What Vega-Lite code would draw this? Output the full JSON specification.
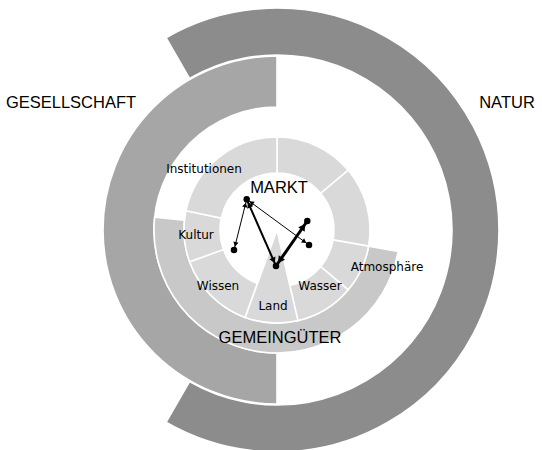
{
  "$schema": "https://vega.github.io/schema/vega-lite/v6.json",
  "width": 542,
  "height": 450,
  "padding": 0,
  "autosize": {"type": "none"},
  "background": "white",
  "config": {"view": {"stroke": null}},
  "datasets": {
    "rings": [
      {"name": "NATUR", "group": "natur", "t0": -30, "t1": 210, "r0": 175, "r1": 222, "cx": 0, "cy": 0},
      {"name": "GESELLSCHAFT", "group": "gesellschaft", "t0": 180, "t1": 360, "r0": 123, "r1": 174, "cx": 0, "cy": 0},
      {"name": "GEMEINGÜTER", "group": "gemeingueter", "t0": 100, "t1": 276, "r0": 93, "r1": 123, "cx": 0, "cy": 0},
      {"name": "s1", "group": "segment", "t0": 0, "t1": 50, "r0": 57, "r1": 93, "cx": 0, "cy": 0},
      {"name": "s2", "group": "segment", "t0": 50, "t1": 100, "r0": 57, "r1": 93, "cx": 0, "cy": 0},
      {"name": "Atmosphäre", "group": "segment", "t0": 100, "t1": 130, "r0": 57, "r1": 93, "cx": 0, "cy": 0},
      {"name": "Wasser", "group": "segment", "t0": 130, "t1": 167, "r0": 57, "r1": 93, "cx": 0, "cy": 0},
      {"name": "Land", "group": "segment", "t0": 167, "t1": 200, "r0": 0, "r1": 93, "cx": 0, "cy": 0},
      {"name": "Wissen", "group": "segment", "t0": 200, "t1": 250, "r0": 57, "r1": 93, "cx": 0, "cy": 0},
      {"name": "Kultur", "group": "segment", "t0": 250, "t1": 282, "r0": 57, "r1": 93, "cx": 0, "cy": 0},
      {"name": "Institutionen", "group": "segment", "t0": 282, "t1": 360, "r0": 57, "r1": 93, "cx": 0, "cy": 0}
    ],
    "links": [
      {"id": "A", "x": -30.3, "y": 30.7, "x2": -43, "y2": -20, "weight": 1},
      {"id": "B", "x": -30.3, "y": 30.7, "x2": -1, "y2": -36, "weight": 2},
      {"id": "C", "x": -30.3, "y": 30.7, "x2": 32, "y2": -15, "weight": 1},
      {"id": "D", "x": -1, "y": -36, "x2": 30.3, "y2": 9, "weight": 3}
    ],
    "heads": [
      {"id": "A", "x": -41.4, "y": -13.7, "dir": 194, "weight": 1},
      {"id": "A", "x": -31.9, "y": 24.4, "dir": 14, "weight": 1},
      {"id": "B", "x": -3.8, "y": -29.6, "dir": 156.3, "weight": 2},
      {"id": "B", "x": -27.5, "y": 24.3, "dir": 336.3, "weight": 2},
      {"id": "C", "x": 26.8, "y": -11.2, "dir": 126.3, "weight": 1},
      {"id": "C", "x": -25.1, "y": 26.9, "dir": 306.3, "weight": 1},
      {"id": "D", "x": 25.7, "y": 2.4, "dir": 34.8, "weight": 3},
      {"id": "D", "x": 3.6, "y": -29.4, "dir": 214.8, "weight": 3}
    ],
    "dots": [
      {"x": -30.3, "y": 30.7},
      {"x": 30.3, "y": 9},
      {"x": 32, "y": -15},
      {"x": -43, "y": -20},
      {"x": -1, "y": -36}
    ],
    "major": [
      {"text": "GESELLSCHAFT", "x": -206, "y": 127},
      {"text": "NATUR", "x": 230, "y": 127},
      {"text": "MARKT", "x": 2, "y": 42},
      {"text": "GEMEINGÜTER", "x": 3, "y": -108}
    ],
    "minor": [
      {"text": "Institutionen", "x": -73, "y": 61},
      {"text": "Kultur", "x": -81, "y": -5},
      {"text": "Wissen", "x": -59, "y": -56},
      {"text": "Land", "x": -4, "y": -76},
      {"text": "Wasser", "x": 43, "y": -56},
      {"text": "Atmosphäre", "x": 110, "y": -37}
    ]
  },
  "layer": [
    {
      "data": {"name": "rings"},
      "mark": {"type": "arc", "stroke": "white", "strokeWidth": 1.6},
      "encoding": {
        "x": {"field": "cx", "type": "quantitative", "scale": {"domain": [-277, 265], "nice": false, "zero": false}, "axis": null},
        "y": {"field": "cy", "type": "quantitative", "scale": {"domain": [-220, 230], "nice": false, "zero": false}, "axis": null},
        "theta": {"field": "t0", "type": "quantitative", "stack": null, "scale": {"type": "linear", "domain": [0, 360], "range": [0, 6.283185307179586]}},
        "theta2": {"field": "t1"},
        "radius": {"field": "r0", "type": "quantitative", "scale": {"type": "linear", "domain": [0, 250], "range": [0, 250], "zero": true}},
        "radius2": {"field": "r1"},
        "color": {"field": "group", "type": "nominal", "legend": null,
          "scale": {"domain": ["natur", "gesellschaft", "gemeingueter", "segment"], "range": ["#8c8c8c", "#a6a6a6", "#c8c8c8", "#d9d9d9"]}},
        "order": {"field": "r0", "type": "quantitative", "sort": "descending"}
      }
    },
    {
      "data": {"name": "links"},
      "mark": {"type": "rule", "color": "black"},
      "encoding": {
        "x": {"field": "x", "type": "quantitative"},
        "y": {"field": "y", "type": "quantitative"},
        "x2": {"field": "x2"},
        "y2": {"field": "y2"},
        "strokeWidth": {"field": "weight", "type": "quantitative", "legend": null, "scale": {"domain": [1, 3], "range": [1, 3]}}
      }
    },
    {
      "data": {"name": "heads"},
      "mark": {"type": "point", "filled": true, "fill": "black", "stroke": null, "fillOpacity": 1, "shape": "triangle"},
      "encoding": {
        "x": {"field": "x", "type": "quantitative"},
        "y": {"field": "y", "type": "quantitative"},
        "angle": {"field": "dir", "type": "quantitative", "scale": {"domain": [0, 360], "range": [0, 360]}},
        "size": {"field": "weight", "type": "quantitative", "legend": null, "scale": {"domain": [1, 3], "range": [28, 60]}}
      }
    },
    {
      "data": {"name": "dots"},
      "mark": {"type": "circle", "color": "black", "opacity": 1, "size": 42},
      "encoding": {
        "x": {"field": "x", "type": "quantitative"},
        "y": {"field": "y", "type": "quantitative"}
      }
    },
    {
      "data": {"name": "major"},
      "mark": {"type": "text", "font": "Liberation Sans", "fontSize": 16.5, "color": "black", "baseline": "middle", "align": "center"},
      "encoding": {
        "x": {"field": "x", "type": "quantitative"},
        "y": {"field": "y", "type": "quantitative"},
        "text": {"field": "text"}
      }
    },
    {
      "data": {"name": "minor"},
      "mark": {"type": "text", "font": "DejaVu Sans", "fontSize": 12, "color": "black", "baseline": "middle", "align": "center"},
      "encoding": {
        "x": {"field": "x", "type": "quantitative"},
        "y": {"field": "y", "type": "quantitative"},
        "text": {"field": "text"}
      }
    }
  ]
}
